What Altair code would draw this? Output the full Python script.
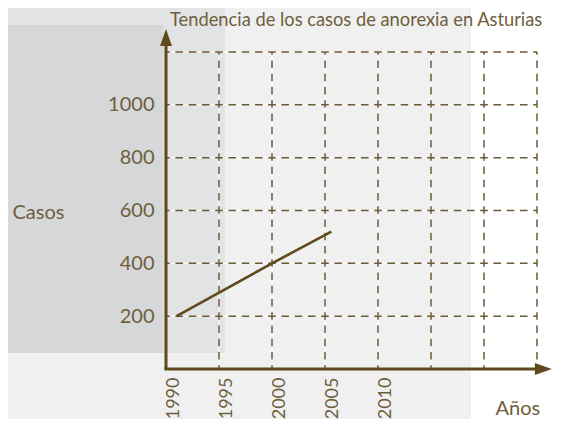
import altair as alt
import pandas as pd

# ---- data ----
years = [1991, 2000, 2005.6]
casos = [200, 400, 520]
x_tick_labels = [1990, 1995, 2000, 2005, 2010]
y_tick_labels = [200, 400, 600, 800, 1000]
grid_years = [1995, 2000, 2005, 2010, 2015, 2020, 2025]
grid_casos = [200, 400, 600, 800, 1000, 1200]

TITLE = "Tendencia de los casos de anorexia en Asturias"
FONT = "Lato"
TXT = "#6e5e3c"
LINE = "#5e4a1b"
GRID = "#6b5a36"

xs = alt.Scale(domain=[1990, 2025], nice=False, zero=False)
ys = alt.Scale(domain=[0, 1200], nice=False, zero=False)

one = alt.Data(values=[{}])

def bg(x, x2, y, y2, color):
    return alt.Chart(one).mark_rect(color=color, strokeWidth=0).encode(
        x=alt.value(x), x2=alt.value(x2), y=alt.value(y), y2=alt.value(y2))

# decorative background blocks (plot origin at image 166,52)
backs = [
    bg(-180, 59, -60, 301, "#e2e3e5"),
    bg(-180, -3, -27, 301, "#d6d7d9"),
    bg(305, 420, -60, 400, "#ffffff"),
]

line_df = pd.DataFrame({"year": years, "casos": casos})
vgrid_df = pd.DataFrame({"year": grid_years, "lo": [0] * len(grid_years), "hi": [1200] * len(grid_years)})
hgrid_df = pd.DataFrame({"casos": grid_casos, "lo": [1990] * len(grid_casos), "hi": [2025] * len(grid_casos)})

x_axis = alt.Axis(values=x_tick_labels, format="d", labelAngle=-90, domain=False, ticks=False,
                  grid=False, labelFontSize=18, labelColor=TXT, labelFont=FONT, labelPadding=8,
                  labelOffset=7, zindex=2,
                  title="Años", titleX=329, titleY=39, titleAlign="left", titleBaseline="middle",
                  titleFontWeight="normal", titleFontSize=20, titleColor=TXT, titleFont=FONT)
y_axis = alt.Axis(values=y_tick_labels, format="d", domain=False, ticks=False, grid=False,
                  labelFontSize=20, labelColor=TXT, labelFont=FONT, labelPadding=12, zindex=2,
                  title="Casos", titleAngle=0, titleX=-154, titleY=160, titleAlign="left",
                  titleBaseline="middle", titleFontWeight="normal", titleFontSize=20,
                  titleColor=TXT, titleFont=FONT)

vgrid_white = alt.Chart(vgrid_df).mark_rule(color="white", strokeWidth=1).encode(
    x=alt.X("year:Q", scale=xs, axis=x_axis), y=alt.Y("lo:Q", scale=ys, axis=y_axis), y2="hi:Q")
hgrid_white = alt.Chart(hgrid_df).mark_rule(color="white", strokeWidth=1).encode(
    y=alt.Y("casos:Q", scale=ys), x=alt.X("lo:Q", scale=xs), x2="hi:Q")
vgrid = alt.Chart(vgrid_df).mark_rule(color=GRID, strokeWidth=1.5, strokeDash=[7.6, 5.65],
                                      strokeDashOffset=3.8).encode(
    x=alt.X("year:Q", scale=xs), y=alt.Y("lo:Q", scale=ys), y2="hi:Q")
hgrid = alt.Chart(hgrid_df).mark_rule(color=GRID, strokeWidth=1.5, strokeDash=[7.6, 5.65],
                                      strokeDashOffset=3.8).encode(
    y=alt.Y("casos:Q", scale=ys), x=alt.X("lo:Q", scale=xs), x2="hi:Q")

yaxis_line = alt.Chart(pd.DataFrame({"year": [1990], "lo": [0], "hi": [1225]})).mark_rule(
    color=LINE, strokeWidth=3).encode(x=alt.X("year:Q", scale=xs), y=alt.Y("lo:Q", scale=ys), y2="hi:Q")
xaxis_line = alt.Chart(pd.DataFrame({"casos": [0], "lo": [1989.85], "hi": [2025.2]})).mark_rule(
    color=LINE, strokeWidth=3).encode(y=alt.Y("casos:Q", scale=ys), x=alt.X("lo:Q", scale=xs), x2="hi:Q")

up_arrow = alt.Chart(pd.DataFrame({"year": [1990], "casos": [1255]})).mark_point(
    shape="M0,-1L0.7,1L-0.7,1Z", filled=True, opacity=1, color=LINE, size=289, strokeWidth=0).encode(
    x=alt.X("year:Q", scale=xs), y=alt.Y("casos:Q", scale=ys))
right_arrow = alt.Chart(pd.DataFrame({"year": [2025.6], "casos": [0]})).mark_point(
    shape="M1,0L-1,0.7L-1,-0.7Z", filled=True, opacity=1, color=LINE, size=289, strokeWidth=0).encode(
    x=alt.X("year:Q", scale=xs), y=alt.Y("casos:Q", scale=ys))

trend = alt.Chart(line_df).mark_line(color=LINE, strokeWidth=2.6).encode(
    x=alt.X("year:Q", scale=xs), y=alt.Y("casos:Q", scale=ys))

title_text = alt.Chart(pd.DataFrame({"t": [TITLE]})).mark_text(
    align="left", baseline="alphabetic", fontSize=18.3, font=FONT, color=TXT).encode(
    x=alt.value(4), y=alt.value(-26), text="t:N")

chart = alt.layer(*backs, vgrid_white, hgrid_white, vgrid, hgrid, trend,
                  yaxis_line, xaxis_line, up_arrow, right_arrow, title_text).properties(
    width=371, height=317,
    autosize="none",
    padding={"left": 158, "top": 44, "right": 16, "bottom": 50},
).configure(background="#f0f0f0").configure_view(strokeWidth=0)

chart.save("out.html", embed_options={"renderer": "svg", "actions": False})
